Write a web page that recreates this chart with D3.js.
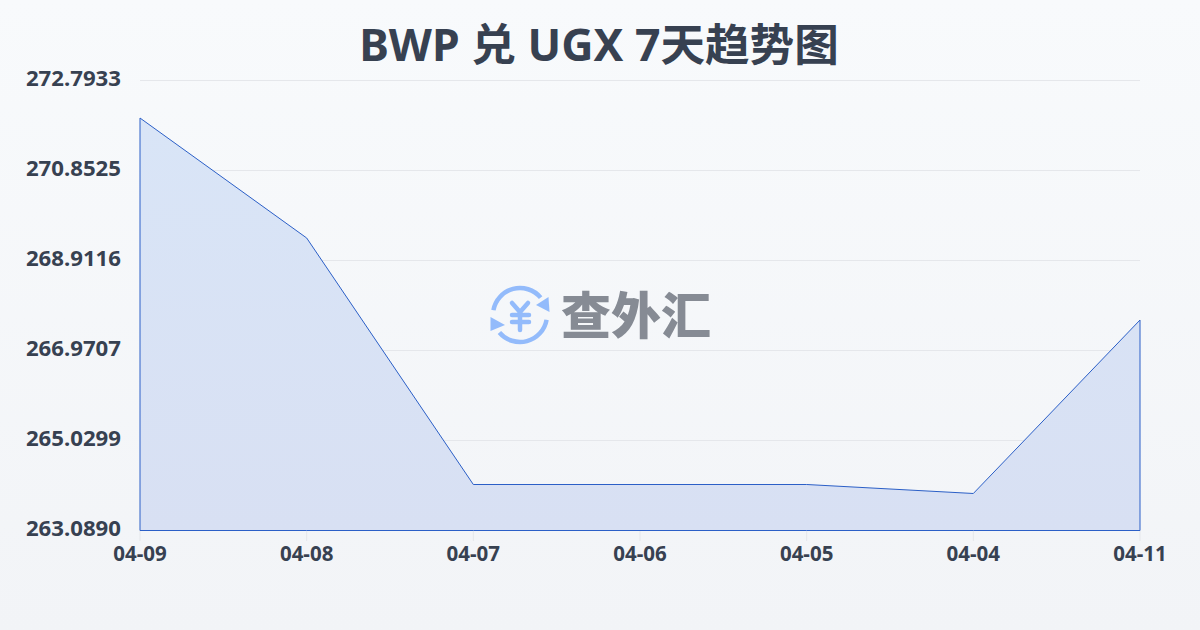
<!DOCTYPE html>
<html><head><meta charset="utf-8">
<style>html,body{margin:0;padding:0;width:1200px;height:630px;overflow:hidden}svg{display:block}text{font-family:"Noto Sans","Noto Sans CJK SC",sans-serif}</style>
<script src="https://cdn.jsdelivr.net/npm/d3@7/dist/d3.min.js"></script>
</head><body><svg id="c" width="1200" height="630"></svg>
<script>
const titleText="BWP 兑 UGX 7天趋势图";
const watermarkText="查外汇";
const categories=["04-09","04-08","04-07","04-06","04-05","04-04","04-11"];
const values=[271.984,269.397,264.081,264.081,264.081,263.887,267.628];
const yTickLabels=["263.0890","265.0299","266.9707","268.9116","270.8525","272.7933"];
const yDomain=[263.089,272.7933];

const svg=d3.select("#c");
const defs=svg.append("defs");
const bg=defs.append("linearGradient").attr("id","bg").attr("x1",0).attr("y1",0).attr("x2",0).attr("y2",1);
bg.append("stop").attr("offset",0).attr("stop-color","#f8fafc");
bg.append("stop").attr("offset",1).attr("stop-color","#f2f4f7");
const af=defs.append("linearGradient").attr("id","af").attr("x1",0).attr("y1",0).attr("x2",0).attr("y2",1);
af.append("stop").attr("offset",0).attr("stop-color","#d9e5f7");
af.append("stop").attr("offset",1).attr("stop-color","#d8e0f3");
svg.append("rect").attr("width",1200).attr("height",630).attr("fill","url(#bg)");

const x=d3.scalePoint().domain(categories).range([140,1140]);
const y=d3.scaleLinear().domain(yDomain).range([530.5,80.5]);
const yTicks=yTickLabels.map(Number);

svg.append("text").attr("x",599).attr("y",61).attr("text-anchor","middle")
  .attr("font-size",44.6).attr("font-weight",700).attr("fill","#374151").text(titleText);

svg.append("g").selectAll("line").data(yTicks).join("line")
  .attr("x1",140).attr("x2",1140).attr("y1",d=>y(d)).attr("y2",d=>y(d))
  .attr("stroke","#e5e7eb").attr("stroke-width",1);
svg.append("g").selectAll("line").data(categories).join("line")
  .attr("x1",d=>x(d)).attr("x2",d=>x(d)).attr("y1",530.5).attr("y2",541)
  .attr("stroke","#e5e7eb").attr("stroke-width",1);

const area=d3.area().x((d,i)=>x(categories[i])).y0(y(yDomain[0])).y1(d=>y(d));
svg.append("path").datum(values).attr("d",area).attr("fill","url(#af)").attr("stroke","#2b5fc7").attr("stroke-width",1).attr("stroke-linejoin","miter");

svg.append("g").selectAll("text").data(yTicks).join("text")
  .attr("x",121).attr("y",d=>y(d)-2).attr("dy","0.36em").attr("text-anchor","end")
  .attr("font-size",22.2).attr("font-weight",700).attr("fill","#374151")
  .text((d,i)=>yTickLabels[i]);
svg.append("g").selectAll("text").data(categories).join("text")
  .attr("x",d=>x(d)).attr("y",561).attr("text-anchor","middle")
  .attr("font-size",20.5).attr("font-weight",700).attr("fill","#374151").text(d=>d);

// watermark
const w=svg.append("g");
const ic=w.append("g").attr("transform","translate(520,315)").attr("fill","none").attr("stroke","#93bbfb").attr("stroke-linecap","round");
ic.append("path").attr("stroke-width",4.5).attr("d",d3.arc()({innerRadius:27,outerRadius:27,startAngle:-1.39,endAngle:0.87}));
ic.append("path").attr("stroke-width",4.5).attr("d",d3.arc()({innerRadius:27,outerRadius:27,startAngle:1.75,endAngle:4.01}));
ic.append("path").attr("fill","#93bbfb").attr("stroke","none").attr("d","M28.5-18L29.5-3L16-10Z");
ic.append("path").attr("fill","#93bbfb").attr("stroke","none").attr("d","M-29.5 2L-29.5 16L-15 10Z");
ic.append("path").attr("stroke-width",4.5).attr("d","M-8-12L0-3L8-12M-8 0H9M-8 7H9M0-3V15");
w.append("text").attr("x",636).attr("y",334).attr("text-anchor","middle")
  .attr("font-size",50).attr("font-weight",900).attr("fill","#868b94").text(watermarkText);
</script></body></html>
